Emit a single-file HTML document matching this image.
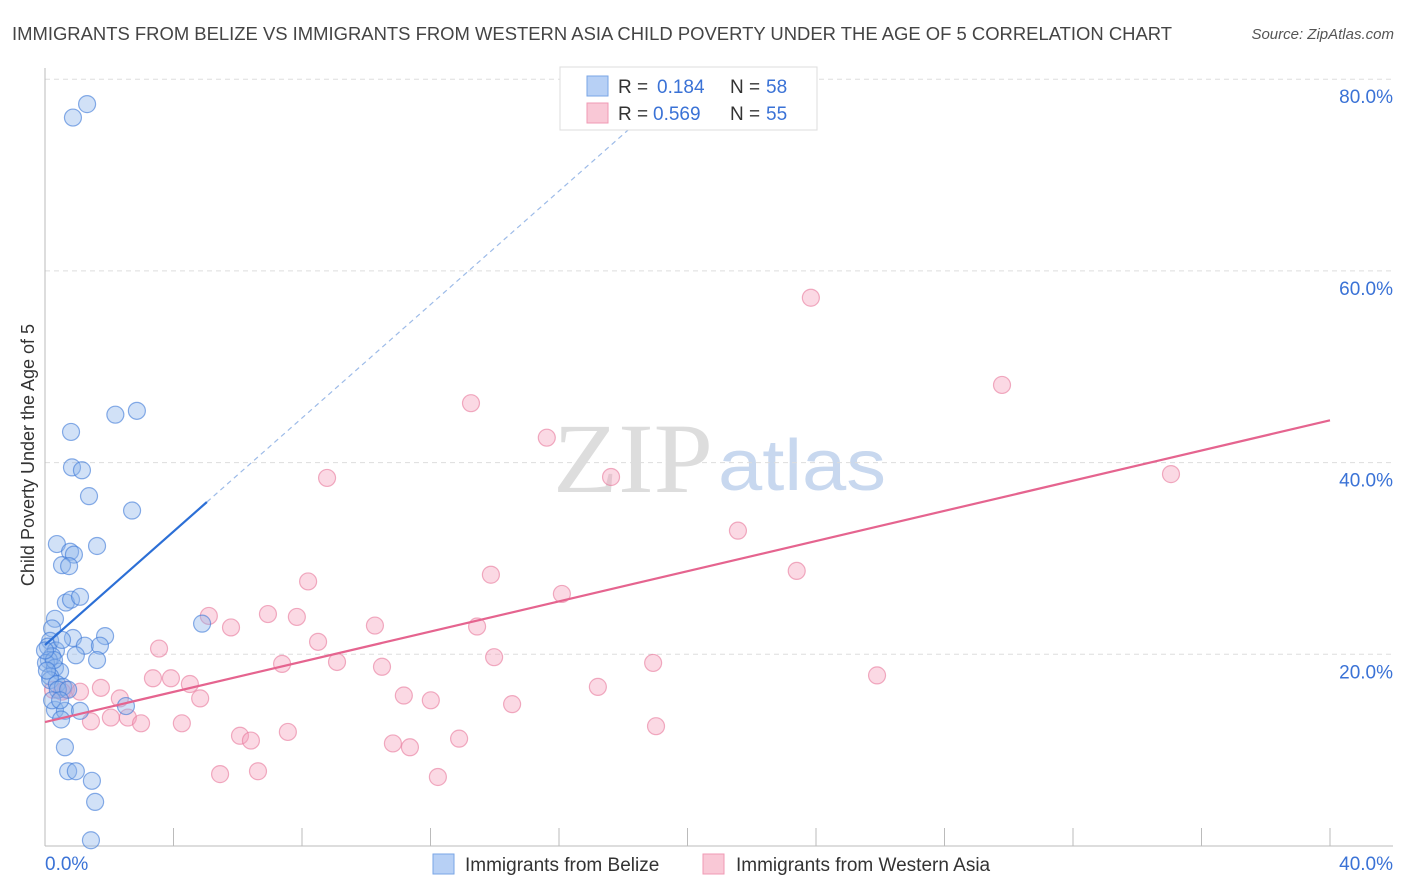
<!DOCTYPE html>
<html><head><meta charset="utf-8">
<style>
body{margin:0;background:#fff;font-family:"Liberation Sans",sans-serif;}
#wrap{position:relative;width:1406px;height:892px;overflow:hidden;}
</style></head>
<body>
<div id="wrap">
<svg id="svg" width="1406" height="892" xmlns="http://www.w3.org/2000/svg">
<text x="12" y="40" font-size="18.4" fill="#444" textLength="1160" lengthAdjust="spacingAndGlyphs">IMMIGRANTS FROM BELIZE VS IMMIGRANTS FROM WESTERN ASIA CHILD POVERTY UNDER THE AGE OF 5 CORRELATION CHART</text>
<text x="1394" y="39" font-size="15" fill="#555" font-style="italic" text-anchor="end">Source: ZipAtlas.com</text>
<text x="34" y="455" font-size="18" fill="#333" text-anchor="middle" transform="rotate(-90 34 455)">Child Poverty Under the Age of 5</text>
<text x="553" y="492" font-size="100" fill="#ddd" font-family="Liberation Serif,serif" textLength="160" lengthAdjust="spacingAndGlyphs">ZIP</text>
<text x="718" y="490" font-size="72" fill="#c8d8ef" textLength="168" lengthAdjust="spacingAndGlyphs">atlas</text>
<g id="grid"></g><g id="axes"></g><g id="pts"></g><g id="lines"></g>
<g>
<rect x="560" y="67" width="257" height="63" fill="#fff" stroke="#ddd"/>
<rect x="587" y="76" width="21" height="20" fill="#b7d0f5" stroke="#7aa6e6"/>
<rect x="587" y="103" width="21" height="20" fill="#f9c8d6" stroke="#f09ab4"/>
<text y="93" font-size="19"><tspan x="618" fill="#333">R = </tspan><tspan x="657" fill="#3a72d6">0.184</tspan><tspan x="730" fill="#333">N = </tspan><tspan x="766" fill="#3a72d6">58</tspan></text>
<text y="120" font-size="19"><tspan x="618" fill="#333">R = </tspan><tspan x="653" fill="#3a72d6">0.569</tspan><tspan x="730" fill="#333">N = </tspan><tspan x="766" fill="#3a72d6">55</tspan></text>
</g>
<g>
<rect x="433" y="854" width="21" height="20" fill="#b7d0f5" stroke="#7aa6e6"/>
<text x="465" y="871" font-size="19" fill="#333">Immigrants from Belize</text>
<rect x="703" y="854" width="21" height="20" fill="#f9c8d6" stroke="#f09ab4"/>
<text x="736" y="871" font-size="19" fill="#333">Immigrants from Western Asia</text>
</g>
</svg>
</div>
<script>
const xTicks=[0,4,8,12,16,20,24,28,32,36,40];
const yTicks=[20,40,60,80];
const yTickLabels=["20.0%","40.0%","60.0%","80.0%"];
const blueX=[1.31,0.87,2.19,2.86,0.81,0.84,1.15,1.37,2.71,0.37,1.62,0.78,0.90,0.53,0.75,0.65,0.81,1.09,0.31,0.22,0.16,0.87,1.87,0.09,1.24,1.71,0.34,0.22,0.96,1.62,0.12,0.03,0.31,0.47,0.16,0.16,0.37,0.56,4.89,2.52,0.31,0.62,1.09,0.50,0.62,0.72,0.96,1.46,1.56,1.43,0.28,0.06,0.40,0.22,0.72,0.47,0.00,0.53];
const blueY=[77.4,76.0,45.0,45.4,43.2,39.5,39.2,36.5,35.0,31.5,31.3,30.7,30.4,29.3,29.2,25.4,25.7,26.0,23.7,22.7,21.4,21.7,21.9,20.8,20.9,20.9,20.4,19.8,19.9,19.4,19.4,19.1,18.6,18.2,17.7,17.3,16.9,16.6,23.2,14.6,14.2,14.1,14.1,13.2,10.3,7.8,7.8,6.8,4.6,0.6,19.4,18.3,16.3,15.2,16.3,15.2,20.4,21.5];
const pinkX=[23.84,29.79,13.26,15.62,8.78,17.62,35.05,21.57,13.88,23.40,8.19,16.09,5.10,6.94,7.84,5.79,10.27,13.45,8.50,3.55,13.98,18.93,7.38,9.09,10.49,25.90,3.36,3.92,4.51,17.21,1.74,11.17,2.33,4.83,12.01,14.54,0.65,1.09,0.25,0.53,2.58,1.43,2.05,2.99,4.26,19.02,7.56,6.07,6.41,10.83,11.36,12.89,6.63,5.45,12.23];
const pinkY=[57.2,48.1,46.2,42.6,38.4,38.5,38.8,32.9,28.3,28.7,27.6,26.3,24.0,24.2,23.9,22.8,23.0,22.9,21.3,20.6,19.7,19.1,19.0,19.2,18.7,17.8,17.5,17.5,16.9,16.6,16.5,15.7,15.4,15.4,15.2,14.8,16.3,16.1,16.3,16.1,13.4,13.0,13.4,12.8,12.8,12.5,11.9,11.5,11.0,10.7,10.3,11.2,7.8,7.5,7.2];
const blueTrend=[20.97,2.96];
const pinkTrend=[12.93,0.787];
const X=v=>45+v/40*1285, Y=v=>846-v/20*191.7;
const NS="http://www.w3.org/2000/svg";
function mk(t,a,p){const e=document.createElementNS(NS,t);for(const k in a)e.setAttribute(k,a[k]);p.appendChild(e);return e;}
const grid=document.getElementById('grid'),axes=document.getElementById('axes'),pts=document.getElementById('pts'),lines=document.getElementById('lines');
yTicks.forEach((t,i)=>{
 const g=mk('line',{x1:45,x2:1393,y1:Y(t),y2:Y(t),stroke:'#ddd','stroke-dasharray':'5,4'},grid);
 
 
 const l=mk('text',{x:1393,y:Y(t)+24,'text-anchor':'end','font-size':19,fill:'#3a72d6'},axes);l.textContent=yTickLabels[i];
 
 
});
mk('line',{x1:45,x2:45,y1:68,y2:846,stroke:'#bbb'},axes);
mk('line',{x1:45,x2:1393,y1:846,y2:846,stroke:'#bbb'},axes);
xTicks.forEach(t=>{const l=mk('line',{x1:X(t),x2:X(t),y1:828,y2:846,stroke:'#bbb'},axes);
 
 });
const xl0=mk('text',{x:45,y:870,'font-size':19,fill:'#3a72d6'},axes);xl0.textContent='0.0%';


const xl1=mk('text',{x:1393,y:870,'font-size':19,fill:'#3a72d6','text-anchor':'end'},axes);xl1.textContent='40.0%';


pinkX.forEach((x,i)=>{const c=mk('circle',{cx:X(x),cy:Y(pinkY[i]),r:8.5,fill:'rgba(245,160,188,0.4)',stroke:'rgba(232,120,155,0.6)','stroke-width':1.2},pts);
 
 });
blueX.forEach((x,i)=>{const c=mk('circle',{cx:X(x),cy:Y(blueY[i]),r:8.5,fill:'rgba(140,180,235,0.4)',stroke:'rgba(60,120,215,0.6)','stroke-width':1.2},pts);
 
 });
const bl=mk('line',{x1:X(0),y1:Y(blueTrend[0]),x2:X(5.04),y2:Y(blueTrend[0]+blueTrend[1]*5.04),stroke:'#2c6fd6','stroke-width':2.2},lines);


const bd=mk('line',{x1:X(5.04),y1:Y(blueTrend[0]+blueTrend[1]*5.04),x2:X(18.3),y2:Y(blueTrend[0]+blueTrend[1]*18.3),stroke:'#9dbbe8','stroke-width':1.2,'stroke-dasharray':'5,4'},lines);


const pl=mk('line',{x1:X(0),y1:Y(pinkTrend[0]),x2:X(40),y2:Y(pinkTrend[0]+pinkTrend[1]*40),stroke:'#e5648f','stroke-width':2.2},lines);


</script>
</body></html>
